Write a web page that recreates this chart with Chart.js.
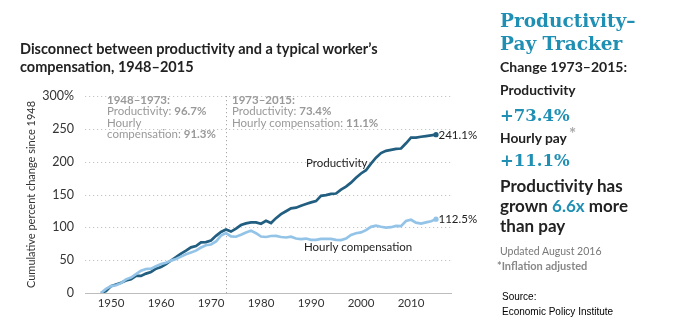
<!DOCTYPE html>
<html><head><meta charset="utf-8">
<script src="https://cdn.jsdelivr.net/npm/chart.js@4.4.0/dist/chart.umd.min.js"></script>
<style>
html,body{margin:0;padding:0;background:#fff;}
#wrap{position:relative;width:678px;height:333px;overflow:hidden;font-family:Lato,sans-serif;}
canvas{position:absolute;left:0;top:0;}
.t{position:absolute;white-space:nowrap;}
.serif{font-family:"DejaVu Serif",serif;font-weight:bold;color:#1f8fb3;}
</style></head><body>
<div id="wrap">
<canvas id="c" width="678" height="333"></canvas>
<div class="t" style="left:20px;top:40px;font-weight:bold;font-size:14.5px;line-height:18px;color:#222">Disconnect between productivity and a typical worker’s<br>compensation, 1948–2015</div>

<div class="t serif" style="left:500px;top:9px;font-size:18.5px;line-height:23px;">Productivity–<br>Pay Tracker</div>
<div class="t" style="left:500px;top:58px;font-size:14px;line-height:18px;font-weight:bold;color:#222">Change 1973–2015:</div>
<div class="t" style="left:500px;top:81px;font-size:13.8px;line-height:18px;font-weight:bold;color:#222">Productivity</div>
<div class="t serif" style="left:500px;top:105px;font-size:16.5px;line-height:22px;">+73.4%</div>
<div class="t" style="left:500px;top:128px;font-size:13.8px;line-height:18px;font-weight:bold;color:#222">Hourly pay<span style="color:#aaa;font-size:17px;position:relative;top:-3px;margin-left:2px">*</span></div>
<div class="t serif" style="left:500px;top:150px;font-size:16.5px;line-height:22px;">+11.1%</div>
<div class="t" style="left:500px;top:176px;font-size:17px;line-height:20px;font-weight:bold;color:#222">Productivity has<br>grown <span style="color:#1f8fb3">6.6x</span> more<br>than pay</div>
<div class="t" style="left:500px;top:244px;font-size:10.5px;line-height:14px;color:#777">Updated August 2016</div>
<div class="t" style="left:497px;top:259px;font-size:11px;line-height:14px;font-weight:bold;color:#888">*Inflation adjusted</div>
<div class="t" style="left:502px;top:289px;font-size:10px;line-height:15px;color:#000;font-family:'Liberation Sans',sans-serif">Source:<br>Economic Policy Institute</div>
</div>
<script>
const years = [1948,1949,1950,1951,1952,1953,1954,1955,1956,1957,1958,1959,
 1960,1961,1962,1963,1964,1965,1966,1967,1968,1969,
 1970,1971,1972,1973,1974,1975,1976,1977,1978,1979,
 1980,1981,1982,1983,1984,1985,1986,1987,1988,1989,
 1990,1991,1992,1993,1994,1995,1996,1997,1998,1999,
 2000,2001,2002,2003,2004,2005,2006,2007,2008,2009,
 2010,2011,2012,2013,2014,2015];
const productivity = [0,3,10.5,13,15.5,19,21,26,26,29.5,32,37,
 39.5,44,49.5,54.5,60,64.5,69.5,71.5,77,77.5,
 80,87,93,96.7,93.5,98,103.5,106,107.5,107.5,
 105.5,110,106.5,114,120,124.5,129,130,133,135.5,
 138,140,148,149,151,151.5,157.5,162,168,175.5,
 182,187,197,206,213,216.5,218,219.5,220,228,
 236.5,236.5,238,239,240,241.1];
const hourlyComp = [0,6.3,10.5,11.8,15,20.8,23.5,28.7,33.9,36.6,37.1,40.9,
 44.3,46.1,49.3,51.8,55.4,59,61.7,64.5,69.2,72.7,
 73.9,78.4,87.3,91.3,86.3,85.7,88.7,92,95,91,
 86,85.3,86.8,86.9,85.3,84.5,85.8,83,82,82.9,
 81,81,82.5,82.3,82.3,80.8,80.5,82.8,88.4,91,
 92.2,95.7,100.7,102.5,100.9,99.6,100.2,102.1,101.8,109.6,
 111.5,107.1,105.8,107.6,109.3,112.5];
const xTicks = [1950,1960,1970,1980,1990,2000,2010];
const yTicks = [0,50,100,150,200,250,300];
const splitYear = 1973;
const seriesNames = ['Productivity','Hourly compensation'];
const endLabels = ['241.1%','112.5%'];
const colors = ['#215e80','#93c4e8'];

const FONT = 'Lato, sans-serif';

const overlay = {
  id:'overlay',
  beforeDatasetsDraw(chart){
    const {ctx, chartArea:a, scales:{x,y}} = chart;
    ctx.save();
    ctx.strokeStyle = '#c4c4c4'; ctx.lineWidth = 1; ctx.setLineDash([1.2,2.8]);
    yTicks.forEach(v=>{ if(v===0) return; const py=Math.round(y.getPixelForValue(v))+0.5;
      ctx.beginPath(); ctx.moveTo(a.left,py); ctx.lineTo(a.right,py); ctx.stroke(); });
    const px = Math.round(x.getPixelForValue(splitYear))+0.5;
    ctx.strokeStyle='#aaa';
    ctx.beginPath(); ctx.moveTo(px,a.top); ctx.lineTo(px,a.bottom); ctx.stroke();
    ctx.setLineDash([]);
    const p0 = Math.round(y.getPixelForValue(0))+0.5;
    ctx.strokeStyle='#bdbdbd'; ctx.lineWidth=1.2;
    ctx.beginPath(); ctx.moveTo(a.left,p0); ctx.lineTo(a.right,p0); ctx.stroke();
    const grey='#999';
    function rich(parts, px, py){
      let cx=px;
      parts.forEach(([t,b])=>{ ctx.font=(b?'bold ':'')+'11.5px '+FONT; ctx.fillStyle=grey;
        ctx.textAlign='left'; ctx.textBaseline='middle'; ctx.fillText(t,cx,py); cx+=ctx.measureText(t).width; });
    }
    const lx1 = x.getPixelForValue(1949.2), lx2 = x.getPixelForValue(1974.2);
    const ty = y.getPixelForValue(300)+4;
    rich([['1948–1973:',true]], lx1, ty);
    rich([['Productivity: ',false],['96.7%',true]], lx1, ty+11.5);
    rich([['Hourly',false]], lx1, ty+23);
    rich([['compensation: ',false],['91.3%',true]], lx1, ty+34.5);
    rich([['1973–2015:',true]], lx2, ty);
    rich([['Productivity: ',false],['73.4%',true]], lx2, ty+11.5);
    rich([['Hourly compensation: ',false],['11.1%',true]], lx2, ty+23);
    ctx.restore();
  },
  afterDatasetsDraw(chart){
    const {ctx, scales:{x,y}} = chart;
    ctx.save();
    const series=[productivity,hourlyComp];
    series.forEach((s,i)=>{
      const ex=x.getPixelForValue(years[years.length-1]), ey=y.getPixelForValue(s[s.length-1]);
      ctx.fillStyle=colors[i]; ctx.beginPath(); ctx.arc(ex,ey,2.6,0,Math.PI*2); ctx.fill();
      ctx.fillStyle='#222'; ctx.font='11.5px '+FONT; ctx.textAlign='left'; ctx.textBaseline='middle';
      ctx.fillText(endLabels[i], ex+2.5, ey+0.5);
    });
    ctx.fillStyle='#222'; ctx.font='11.5px '+FONT; ctx.textAlign='left'; ctx.textBaseline='middle';
    ctx.fillText(seriesNames[0], x.getPixelForValue(1989), y.getPixelForValue(198));
    ctx.fillText(seriesNames[1], x.getPixelForValue(1988.6), y.getPixelForValue(70));
    ctx.restore();
  }
};

new Chart(document.getElementById('c'), {
  type:'line',
  data:{datasets:[
    {label:seriesNames[1], data:years.map((yr,i)=>({x:yr,y:hourlyComp[i]})), borderColor:colors[1], borderWidth:2.7, pointRadius:0, tension:0},
    {label:seriesNames[0], data:years.map((yr,i)=>({x:yr,y:productivity[i]})), borderColor:colors[0], borderWidth:2.7, pointRadius:0, tension:0}
  ]},
  options:{
    responsive:false, animation:false, devicePixelRatio:1,
    layout:{padding:{left:25,right:226,top:96,bottom:20}},
    plugins:{legend:{display:false},tooltip:{enabled:false}},
    scales:{
      x:{type:'linear',min:1944.8,max:2018.2,
        afterBuildTicks:s=>{s.ticks=xTicks.map(v=>({value:v}));},
        afterFit:s=>{s.height=20;},
        grid:{display:false,drawTicks:false},
        border:{display:false},
        ticks:{padding:3,color:'#333',font:{family:FONT,size:11.5},maxRotation:0,callback:v=>String(v)}},
      y:{min:0,max:300,
        afterBuildTicks:s=>{s.ticks=yTicks.map(v=>({value:v}));},
        afterFit:s=>{s.width=60;},
        grid:{display:false,drawTicks:false},
        border:{display:false},
        ticks:{padding:11,color:'#333',font:{family:FONT,size:12.5},callback:v=>v===300?'300%':String(v)},
        title:{display:true,text:'Cumulative percent change since 1948',color:'#333',font:{family:FONT,size:11},padding:{top:0,bottom:0}}}
    }
  },
  plugins:[overlay]
});
</script>
</body></html>
